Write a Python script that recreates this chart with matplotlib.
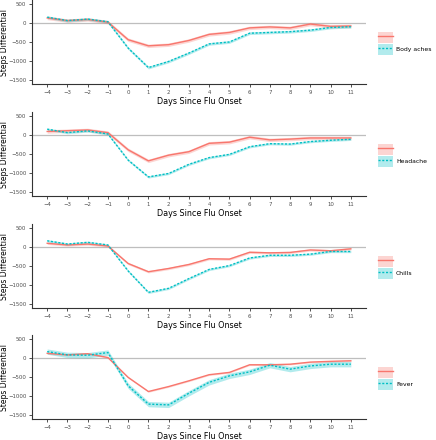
import numpy as np
import matplotlib.pyplot as plt
from matplotlib.patches import Patch
from matplotlib.lines import Line2D

days = list(range(-4, 12))
symptoms = ['Body aches', 'Headache', 'Chills', 'Fever']

# red = group without symptom (unlabelled in legend), cyan = with symptom
red_vals = {
    'Body aches': [130, 60, 90, 20, -440, -600, -570, -460, -300, -250, -130, -105, -130, -30, -90, -80],
    'Headache': [90, 110, 130, 60, -390, -680, -530, -440, -220, -190, -60, -130, -110, -80, -80, -80],
    'Chills': [95, 50, 75, 25, -435, -650, -565, -460, -310, -320, -140, -155, -145, -80, -100, -50],
    'Fever': [120, 80, 110, 10, -510, -880, -750, -600, -440, -380, -180, -180, -165, -110, -90, -75],
}
cyan_vals = {
    'Body aches': [150, 60, 100, 30, -660, -1170, -1010, -790, -550, -500, -270, -250, -230, -190, -120, -100],
    'Headache': [150, 60, 105, 25, -660, -1100, -1010, -770, -595, -510, -310, -230, -240, -175, -140, -115],
    'Chills': [160, 75, 120, 50, -630, -1190, -1085, -830, -590, -490, -290, -220, -220, -190, -120, -120],
    'Fever': [165, 80, 70, 140, -730, -1210, -1230, -925, -640, -470, -365, -190, -295, -210, -165, -165],
}
# half width of the confidence ribbons
red_ci = {'Body aches': 45, 'Headache': 45, 'Chills': 30, 'Fever': 20}
cyan_ci = {'Body aches': 35, 'Headache': 30, 'Chills': 30, 'Fever': 70}

yticks = [500, 0, -500, -1000, -1500]

RED = '#F8766D'
CYAN = '#00BFC4'
W, H = 436, 440

fig = plt.figure(figsize=(W / 100, H / 100), dpi=100)
tops = [0, 112, 224, 335]

for i, name in enumerate(symptoms):
    top = tops[i]
    ax = fig.add_axes([32 / W, 1 - (top + 84) / H, 334 / W, 84 / H])
    x = np.array(days)
    r = np.array(red_vals[name])
    c = np.array(cyan_vals[name])

    ax.axhline(0, color='#BEBEBE', lw=0.9, zorder=1)
    ax.fill_between(x, r - red_ci[name], r + red_ci[name], color=RED, alpha=0.3, lw=0, zorder=2)
    ax.fill_between(x, c - cyan_ci[name], c + cyan_ci[name], color=CYAN, alpha=0.3, lw=0, zorder=2)
    ax.plot(x, r, color=RED, lw=1.0, zorder=3)
    ax.plot(x, c, color=CYAN, lw=1.0, ls=(0, (1.5, 1.2)), zorder=3)

    ax.set_xlim(-4.75, 11.75)
    ax.set_ylim(-1600, 600)
    ax.set_xticks(days)
    ax.set_yticks(yticks)
    ax.tick_params(labelsize=3.9, colors='#333333', labelcolor='#4D4D4D',
                   length=2.5, width=0.6, pad=1.6)
    for s in ['top', 'right']:
        ax.spines[s].set_visible(False)
    for s in ['left', 'bottom']:
        ax.spines[s].set_color('#333333')
        ax.spines[s].set_linewidth(0.8)

    ax.set_xlabel('Days Since Flu Onset', fontsize=5.8)
    ax.xaxis.set_label_coords(0.5, -0.15)
    ax.xaxis.label.set_va('top')
    ax.set_ylabel('Steps Differential', fontsize=5.5)
    ax.yaxis.set_label_coords(-27.5 / 334, 0.5)
    ax.yaxis.label.set_va('center')

    handles = [
        (Patch(facecolor=RED, alpha=0.3, lw=0), Line2D([], [], color=RED, lw=1.0)),
        (Patch(facecolor=CYAN, alpha=0.3, lw=0), Line2D([], [], color=CYAN, lw=1.0, ls=(0, (1.5, 1.2)))),
    ]
    ax.legend(handles, ['', name], loc='center left', bbox_to_anchor=(1.035, 0.48),
              frameon=False, fontsize=4.4, handlelength=2.5, handleheight=2.4,
              handletextpad=0.5, labelspacing=0.1, borderaxespad=0, borderpad=0)

fig.savefig('out.png', dpi=100)
